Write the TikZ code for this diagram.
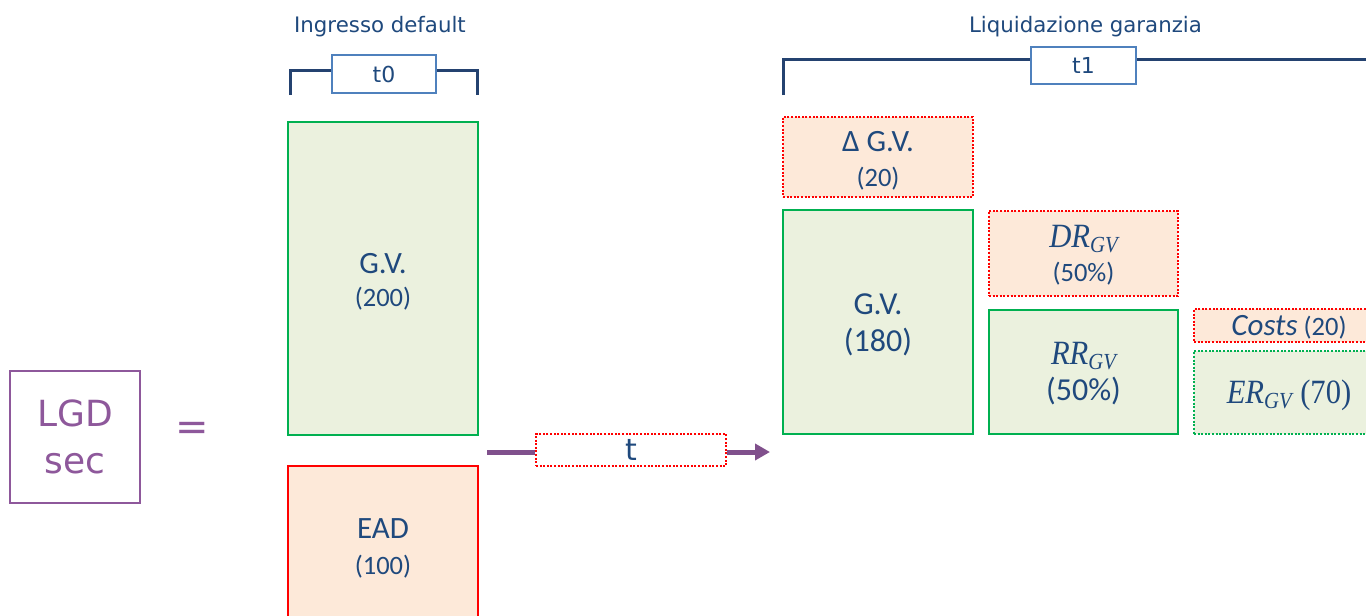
\documentclass[tikz,border=0pt]{standalone}
\usepackage{fontspec}
\setmainfont{Carlito}
\newfontfamily\verd{DejaVu Sans}
\newfontfamily\mserif{Liberation Serif}
\usetikzlibrary{arrows.meta}

\definecolor{txtblue}{RGB}{31,73,125}
\definecolor{navy}{RGB}{36,66,112}
\definecolor{tblue}{RGB}{79,129,189}
\definecolor{ggreen}{RGB}{0,176,80}
\definecolor{gfill}{RGB}{235,241,222}
\definecolor{rred}{RGB}{255,0,0}
\definecolor{rfill}{RGB}{253,233,217}
\definecolor{lpurple}{RGB}{142,88,155}
\definecolor{apurple}{RGB}{128,80,140}

% italic variable with a GV subscript, narrowed to a math-italic width
\newcommand{\gvvar}[1]{{\mserif\itshape\scalebox{0.9}[1]{#1}\raisebox{-4.5pt}{\fontsize{23}{23}\selectfont\scalebox{0.9}[1]{GV}}}}

\tikzset{
  box/.style={draw, line width=2pt, inner sep=0pt},
  gbox/.style={box, draw=ggreen, fill=gfill},
  rbox/.style={box, draw=rred, fill=rfill},
  dotline/.style={dash pattern=on 2pt off 1.6pt},
  lbl/.style={align=center, text=txtblue, inner sep=0pt},
  tlabel/.style={draw=tblue, line width=2pt, fill=white, inner sep=0pt, text=txtblue,
    font=\verd\fontsize{22}{26}\selectfont},
  bracket/.style={draw=navy, line width=3pt},
  toptitle/.style={anchor=base, text=txtblue, font=\verd\fontsize{21.3}{24}\selectfont},
  flow/.style={draw=apurple, line width=5pt},
}

\begin{document}
\begin{tikzpicture}[x=1pt, y=-1pt]
\clip (0,0) rectangle (1366,616);
\fill[white] (0,0) rectangle (1366,616);

% left-hand side
\node[draw=lpurple, line width=2pt, minimum width=130pt, minimum height=132pt, inner sep=0pt,
  align=center, text=lpurple, font=\verd\fontsize{36}{47}\selectfont] (lgd) at (75,437) {LGD\\sec};
\node[text=lpurple, font=\verd\fontsize{40}{40}\selectfont] (eq) at (192,431) {=};

% default entry
\node[toptitle] (ingr) at (380,32) {Ingresso default};
\node[tlabel, minimum width=104pt, minimum height=38pt] (t0) at (384,74) {t0};
\coordinate (b0l) at (290,95);
\coordinate (b0r) at (477,95);
\draw[bracket] (b0l) |- ([yshift=4pt]t0.west);
\draw[bracket] ([yshift=4pt]t0.east) -| (b0r);

\node[gbox, minimum width=190pt, minimum height=313pt] (gv0) at (383,278.5) {};
\node[lbl, font=\fontsize{31}{33}\selectfont] (gv0t) at ([yshift=-3pt]gv0.center)
  {G.V.\\{\fontsize{26.5}{33}\selectfont (200)}};
\node[rbox, minimum width=190pt, minimum height=160pt] (ead) at (383,546) {};
\node[lbl, font=\fontsize{31}{36}\selectfont] (eadt) at ([yshift=-2pt]ead.center)
  {EAD\\{\fontsize{26.5}{36}\selectfont (100)}};

% time flow
\coordinate (fa) at (487,452);
\coordinate (fb) at (770,452);
\node[draw=rred, dotline, line width=2pt, fill=white, minimum width=190pt, minimum height=32pt,
  inner sep=0pt, text=txtblue, font=\verd\fontsize{30}{30}\selectfont] (tb) at (631,450) {t};
\draw[flow] (fa) -- (fa -| tb.west);
\draw[flow, -{Triangle[length=15pt, width=16pt]}] (tb.east |- fa) -- (fb);

% collateral liquidation
\node[toptitle] (liq) at (1085.5,32) {Liquidazione garanzia};
\node[tlabel, minimum width=105pt, minimum height=37pt] (t1) at (1083.5,65.5) {t1};
\coordinate (b1l) at (783,95);
\coordinate (b1r) at (1380,59);
\draw[bracket] (b1l) |- ([yshift=6.5pt]t1.west);
\draw[bracket] ([yshift=6.5pt]t1.east) -- (b1r);

\node[rbox, dotline, minimum width=190pt, minimum height=80pt] (dgv) at (878,157) {};
\node[lbl, font=\fontsize{31}{35}\selectfont] (dgvt) at ([yshift=-4pt]dgv.center)
  {Δ G.V.\\{\fontsize{26.5}{35}\selectfont (20)}};
\node[gbox, minimum width=190pt, minimum height=224pt] (gv1) at (878,322) {};
\node[lbl, font=\fontsize{32}{37}\selectfont] (gv1t) at ([yshift=-3pt]gv1.center) {G.V.\\(180)};

\node[rbox, dotline, minimum width=189pt, minimum height=85pt] (dr) at (1083.5,253.5) {};
\node[lbl, font=\fontsize{26.5}{34}\selectfont] (drt) at ([yshift=-2pt]dr.center)
  {{\fontsize{34}{34}\selectfont\gvvar{DR}}\\(50\%)};
\node[gbox, minimum width=189pt, minimum height=124pt] (rr) at (1083.5,372) {};
\node[lbl, font=\fontsize{32}{36}\selectfont] (rrt) at ([yshift=-2pt]rr.center)
  {{\fontsize{34}{36}\selectfont\gvvar{RR}}\\(50\%)};

\node[rbox, dotline, minimum width=190pt, minimum height=33pt] (costs) at (1289,325.5) {};
\node[lbl, font=\fontsize{26.5}{30}\selectfont] (costst) at ([yshift=-2pt]costs.center)
  {{\fontsize{31}{30}\selectfont\itshape Costs} (20)};
\node[gbox, dotline, minimum width=190pt, minimum height=83pt] (er) at (1289,392.5) {};
\node[lbl, font=\mserif\fontsize{34}{34}\selectfont] (ert) at ([yshift=-3pt]er.center)
  {\gvvar{ER} \scalebox{0.9}[1]{(70)}};
\end{tikzpicture}
\end{document}
